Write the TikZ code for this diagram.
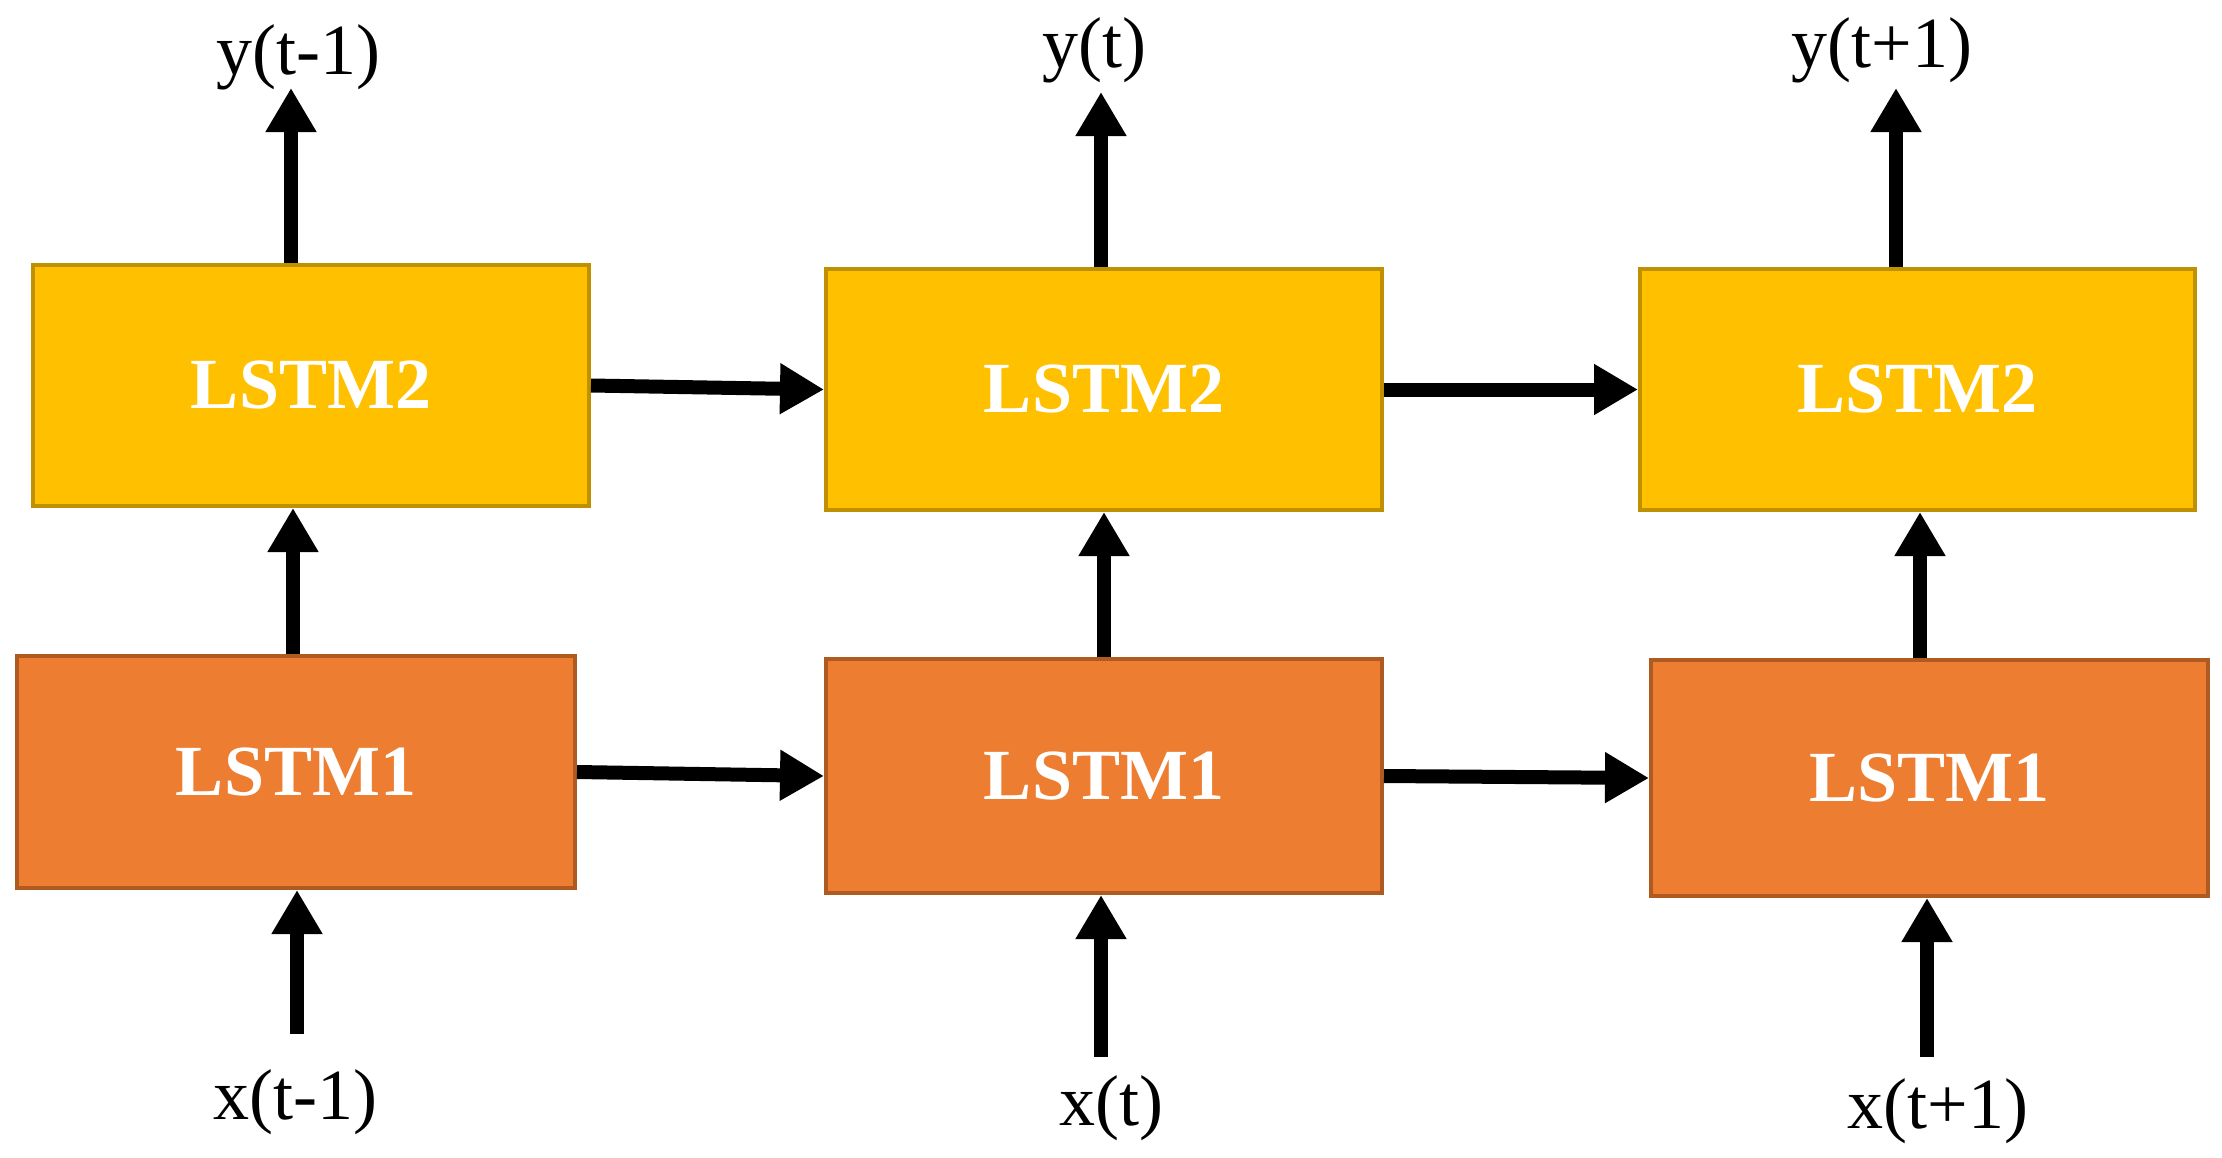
\documentclass[tikz,border=0pt]{standalone}
\usepackage{fontspec}
\setmainfont{Liberation Serif}
\usetikzlibrary{arrows.meta}
\definecolor{ylw}{HTML}{FFC000}
\definecolor{ylwb}{HTML}{BF9000}
\definecolor{org}{HTML}{ED7D31}
\definecolor{orgb}{HTML}{AE5A21}
\begin{document}
\begin{tikzpicture}[x=0.5pt,y=-0.5pt,
  cellbox/.style={rectangle, line width=2pt, minimum width=278pt, minimum height=118pt,
    inner sep=0pt, text=white, font=\fontsize{36}{42}\selectfont\bfseries},
  l2box/.style={cellbox, fill=ylw, draw=ylwb},
  l1box/.style={cellbox, fill=org, draw=orgb},
  lbl/.style={inner sep=0pt, font=\fontsize{36}{42}\selectfont},
  arr/.style={line width=7pt, -{Triangle[width=24pt,length=22pt]}}]
\useasboundingbox (0,0) rectangle (2222,1157);
% boxes
\node[l2box, minimum height=120.5pt] (l2) at (311,385.5) {LSTM2};
\node[l2box, minimum height=120.5pt] (m2) at (1104,389.5) {LSTM2};
\node[l2box, minimum height=120.5pt, minimum width=277.5pt] (r2) at (1917.5,389.5) {LSTM2};
\node[l1box, minimum height=116pt, minimum width=279pt] (l1) at (296,772) {LSTM1};
\node[l1box, minimum height=117pt] (m1) at (1104,776) {LSTM1};
\node[l1box, minimum height=118pt, minimum width=278.5pt] (r1) at (1929.5,778) {LSTM1};
% labels
\node[lbl] (yl) at (298,57) {y(t-1)};
\node[lbl] (ym) at (1094,50) {y(t)};
\node[lbl] (yr) at (1882,50) {y(t+1)};
\node[lbl] (xl) at (295,1102) {x(t-1)};
\node[lbl] (xm) at (1111,1108) {x(t)};
\node[lbl] (xr) at (1938,1111) {x(t+1)};
% arrow end points
\coordinate (tl) at (291,88);
\coordinate (tm) at (1101,92);
\coordinate (tr) at (1896,88);
\coordinate (vl) at (293,600);
\coordinate (vm) at (1104,600);
\coordinate (vr) at (1920,600);
\coordinate (bl) at (297,1034);
\coordinate (bm) at (1101,1057);
\coordinate (br) at (1927,1057);
% outputs
\draw[arr] (l2.north -| tl) -- (tl);
\draw[arr] (m2.north -| tm) -- (tm);
\draw[arr] (r2.north -| tr) -- (tr);
% recurrent connections
\draw[arr] (l2.east) -- (m2.west);
\draw[arr] (m2.east) -- (r2.west);
\draw[arr] (l1.east) -- (m1.west);
\draw[arr] (m1.east) -- (r1.west);
% between layers
\draw[arr] (l1.north -| vl) -- (l2.south -| vl);
\draw[arr] (m1.north -| vm) -- (m2.south -| vm);
\draw[arr] (r1.north -| vr) -- (r2.south -| vr);
% inputs
\draw[arr] (bl) -- (l1.south -| bl);
\draw[arr] (bm) -- (m1.south -| bm);
\draw[arr] (br) -- (r1.south -| br);
\end{tikzpicture}
\end{document}
